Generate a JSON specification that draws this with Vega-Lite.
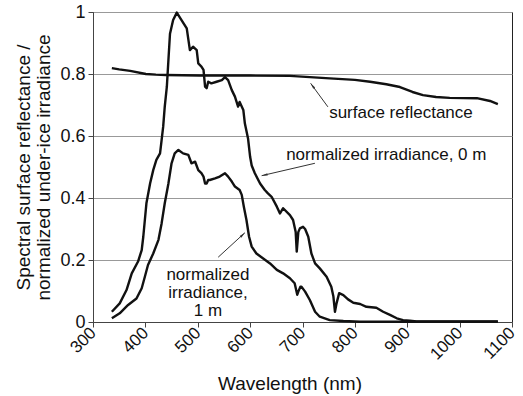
{
  "$schema": "https://vega.github.io/schema/vega-lite/v6.json",
  "width": 419,
  "height": 310,
  "autosize": {"type": "none"},
  "padding": {"left": 93, "top": 12, "right": 11, "bottom": 74},
  "background": "white",
  "config": {
    "view": {"stroke": "#222", "strokeWidth": 1},
    "font": "Liberation Sans",
    "axis": {"labelFont": "Liberation Sans", "titleFont": "Liberation Sans", "labelColor": "#111", "titleColor": "#111", "titleFontWeight": "normal", "domainColor": "#444", "tickColor": "#444"}
  },
  "datasets": {
    "spectra": [
      {"series": "surface reflectance", "wl": 336, "value": 0.819},
      {"series": "surface reflectance", "wl": 350, "value": 0.815},
      {"series": "surface reflectance", "wl": 371, "value": 0.81},
      {"series": "surface reflectance", "wl": 401, "value": 0.8},
      {"series": "surface reflectance", "wl": 420, "value": 0.798},
      {"series": "surface reflectance", "wl": 439, "value": 0.797},
      {"series": "surface reflectance", "wl": 504, "value": 0.795},
      {"series": "surface reflectance", "wl": 600, "value": 0.795},
      {"series": "surface reflectance", "wl": 676, "value": 0.794},
      {"series": "surface reflectance", "wl": 752, "value": 0.786},
      {"series": "surface reflectance", "wl": 800, "value": 0.781},
      {"series": "surface reflectance", "wl": 829, "value": 0.775},
      {"series": "surface reflectance", "wl": 860, "value": 0.767},
      {"series": "surface reflectance", "wl": 886, "value": 0.758},
      {"series": "surface reflectance", "wl": 910, "value": 0.742},
      {"series": "surface reflectance", "wl": 930, "value": 0.732},
      {"series": "surface reflectance", "wl": 955, "value": 0.726},
      {"series": "surface reflectance", "wl": 981, "value": 0.723},
      {"series": "surface reflectance", "wl": 1033, "value": 0.722},
      {"series": "surface reflectance", "wl": 1058, "value": 0.713},
      {"series": "surface reflectance", "wl": 1073, "value": 0.703},

      {"series": "0 m", "wl": 336, "value": 0.033},
      {"series": "0 m", "wl": 351, "value": 0.06},
      {"series": "0 m", "wl": 364, "value": 0.103},
      {"series": "0 m", "wl": 374, "value": 0.157},
      {"series": "0 m", "wl": 386, "value": 0.195},
      {"series": "0 m", "wl": 393, "value": 0.232},
      {"series": "0 m", "wl": 396, "value": 0.275},
      {"series": "0 m", "wl": 399, "value": 0.329},
      {"series": "0 m", "wl": 402, "value": 0.383},
      {"series": "0 m", "wl": 409, "value": 0.447},
      {"series": "0 m", "wl": 415, "value": 0.49},
      {"series": "0 m", "wl": 421, "value": 0.523},
      {"series": "0 m", "wl": 428, "value": 0.544},
      {"series": "0 m", "wl": 431, "value": 0.587},
      {"series": "0 m", "wl": 434, "value": 0.63},
      {"series": "0 m", "wl": 437, "value": 0.695},
      {"series": "0 m", "wl": 441, "value": 0.759},
      {"series": "0 m", "wl": 444, "value": 0.845},
      {"series": "0 m", "wl": 447, "value": 0.93},
      {"series": "0 m", "wl": 453, "value": 0.974},
      {"series": "0 m", "wl": 460, "value": 0.998},
      {"series": "0 m", "wl": 469, "value": 0.974},
      {"series": "0 m", "wl": 479, "value": 0.947},
      {"series": "0 m", "wl": 485, "value": 0.877},
      {"series": "0 m", "wl": 491, "value": 0.888},
      {"series": "0 m", "wl": 498, "value": 0.877},
      {"series": "0 m", "wl": 501, "value": 0.834},
      {"series": "0 m", "wl": 507, "value": 0.824},
      {"series": "0 m", "wl": 511, "value": 0.813},
      {"series": "0 m", "wl": 514, "value": 0.759},
      {"series": "0 m", "wl": 517, "value": 0.754},
      {"series": "0 m", "wl": 520, "value": 0.775},
      {"series": "0 m", "wl": 526, "value": 0.77},
      {"series": "0 m", "wl": 536, "value": 0.775},
      {"series": "0 m", "wl": 546, "value": 0.78},
      {"series": "0 m", "wl": 552, "value": 0.79},
      {"series": "0 m", "wl": 558, "value": 0.78},
      {"series": "0 m", "wl": 565, "value": 0.748},
      {"series": "0 m", "wl": 571, "value": 0.727},
      {"series": "0 m", "wl": 577, "value": 0.695},
      {"series": "0 m", "wl": 580, "value": 0.71},
      {"series": "0 m", "wl": 587, "value": 0.684},
      {"series": "0 m", "wl": 590, "value": 0.64},
      {"series": "0 m", "wl": 596, "value": 0.592},
      {"series": "0 m", "wl": 600, "value": 0.533},
      {"series": "0 m", "wl": 603, "value": 0.505},
      {"series": "0 m", "wl": 609, "value": 0.48},
      {"series": "0 m", "wl": 619, "value": 0.447},
      {"series": "0 m", "wl": 628, "value": 0.426},
      {"series": "0 m", "wl": 634, "value": 0.415},
      {"series": "0 m", "wl": 641, "value": 0.404},
      {"series": "0 m", "wl": 651, "value": 0.372},
      {"series": "0 m", "wl": 657, "value": 0.35},
      {"series": "0 m", "wl": 663, "value": 0.367},
      {"series": "0 m", "wl": 676, "value": 0.345},
      {"series": "0 m", "wl": 682, "value": 0.329},
      {"series": "0 m", "wl": 687, "value": 0.29},
      {"series": "0 m", "wl": 689, "value": 0.227},
      {"series": "0 m", "wl": 692, "value": 0.29},
      {"series": "0 m", "wl": 695, "value": 0.302},
      {"series": "0 m", "wl": 701, "value": 0.307},
      {"series": "0 m", "wl": 705, "value": 0.3},
      {"series": "0 m", "wl": 711, "value": 0.275},
      {"series": "0 m", "wl": 717, "value": 0.221},
      {"series": "0 m", "wl": 724, "value": 0.189},
      {"series": "0 m", "wl": 733, "value": 0.173},
      {"series": "0 m", "wl": 746, "value": 0.146},
      {"series": "0 m", "wl": 755, "value": 0.114},
      {"series": "0 m", "wl": 759, "value": 0.082},
      {"series": "0 m", "wl": 762, "value": 0.033},
      {"series": "0 m", "wl": 765, "value": 0.06},
      {"series": "0 m", "wl": 770, "value": 0.093},
      {"series": "0 m", "wl": 778, "value": 0.087},
      {"series": "0 m", "wl": 787, "value": 0.073},
      {"series": "0 m", "wl": 797, "value": 0.062},
      {"series": "0 m", "wl": 810, "value": 0.058},
      {"series": "0 m", "wl": 822, "value": 0.049},
      {"series": "0 m", "wl": 841, "value": 0.046},
      {"series": "0 m", "wl": 854, "value": 0.033},
      {"series": "0 m", "wl": 867, "value": 0.023},
      {"series": "0 m", "wl": 880, "value": 0.012},
      {"series": "0 m", "wl": 892, "value": 0.006},
      {"series": "0 m", "wl": 905, "value": 0.004},
      {"series": "0 m", "wl": 918, "value": 0.002},
      {"series": "0 m", "wl": 1000, "value": 0.002},
      {"series": "0 m", "wl": 1073, "value": 0.002},

      {"series": "1 m", "wl": 336, "value": 0.012},
      {"series": "1 m", "wl": 351, "value": 0.028},
      {"series": "1 m", "wl": 367, "value": 0.055},
      {"series": "1 m", "wl": 383, "value": 0.076},
      {"series": "1 m", "wl": 393, "value": 0.109},
      {"series": "1 m", "wl": 399, "value": 0.146},
      {"series": "1 m", "wl": 405, "value": 0.184},
      {"series": "1 m", "wl": 415, "value": 0.221},
      {"series": "1 m", "wl": 425, "value": 0.265},
      {"series": "1 m", "wl": 431, "value": 0.318},
      {"series": "1 m", "wl": 437, "value": 0.383},
      {"series": "1 m", "wl": 444, "value": 0.447},
      {"series": "1 m", "wl": 450, "value": 0.512},
      {"series": "1 m", "wl": 456, "value": 0.544},
      {"series": "1 m", "wl": 463, "value": 0.555},
      {"series": "1 m", "wl": 472, "value": 0.544},
      {"series": "1 m", "wl": 482, "value": 0.539},
      {"series": "1 m", "wl": 488, "value": 0.512},
      {"series": "1 m", "wl": 495, "value": 0.517},
      {"series": "1 m", "wl": 501, "value": 0.49},
      {"series": "1 m", "wl": 507, "value": 0.48},
      {"series": "1 m", "wl": 511, "value": 0.469},
      {"series": "1 m", "wl": 514, "value": 0.447},
      {"series": "1 m", "wl": 517, "value": 0.447},
      {"series": "1 m", "wl": 520, "value": 0.458},
      {"series": "1 m", "wl": 523, "value": 0.458},
      {"series": "1 m", "wl": 533, "value": 0.463},
      {"series": "1 m", "wl": 542, "value": 0.469},
      {"series": "1 m", "wl": 552, "value": 0.48},
      {"series": "1 m", "wl": 558, "value": 0.469},
      {"series": "1 m", "wl": 565, "value": 0.453},
      {"series": "1 m", "wl": 571, "value": 0.437},
      {"series": "1 m", "wl": 580, "value": 0.426},
      {"series": "1 m", "wl": 584, "value": 0.41},
      {"series": "1 m", "wl": 588, "value": 0.372},
      {"series": "1 m", "wl": 593, "value": 0.329},
      {"series": "1 m", "wl": 598, "value": 0.275},
      {"series": "1 m", "wl": 603, "value": 0.243},
      {"series": "1 m", "wl": 612, "value": 0.221},
      {"series": "1 m", "wl": 625, "value": 0.205},
      {"series": "1 m", "wl": 638, "value": 0.189},
      {"series": "1 m", "wl": 651, "value": 0.168},
      {"series": "1 m", "wl": 663, "value": 0.157},
      {"series": "1 m", "wl": 676, "value": 0.141},
      {"series": "1 m", "wl": 685, "value": 0.125},
      {"series": "1 m", "wl": 690, "value": 0.088},
      {"series": "1 m", "wl": 692, "value": 0.098},
      {"series": "1 m", "wl": 696, "value": 0.114},
      {"series": "1 m", "wl": 698, "value": 0.114},
      {"series": "1 m", "wl": 705, "value": 0.098},
      {"series": "1 m", "wl": 714, "value": 0.071},
      {"series": "1 m", "wl": 724, "value": 0.033},
      {"series": "1 m", "wl": 733, "value": 0.017},
      {"series": "1 m", "wl": 752, "value": 0.006},
      {"series": "1 m", "wl": 778, "value": 0.003},
      {"series": "1 m", "wl": 810, "value": 0.001},
      {"series": "1 m", "wl": 1073, "value": 0.001}
    ],
    "arrows": [
      {"label": "sr", "wl": 748.5, "value": 0.694, "wl2": 715.5, "value2": 0.77},
      {"label": "m0", "wl": 723.7, "value": 0.512, "wl2": 622, "value2": 0.472},
      {"label": "m1", "wl": 539, "value": 0.209, "wl2": 590, "value2": 0.288}
    ],
    "labels": [
      {"text": "surface reflectance", "wl": 888, "value": 0.674},
      {"text": "normalized irradiance, 0 m", "wl": 860, "value": 0.539},
      {"text": "normalized\nirradiance,\n1 m", "wl": 519.5, "value": 0.153}
    ]
  },
  "layer": [
    {
      "data": {"name": "spectra"},
      "mark": {"type": "line", "color": "#111", "strokeWidth": 2.4, "strokeJoin": "round"},
      "encoding": {
        "x": {
          "field": "wl", "type": "quantitative",
          "scale": {"domain": [300, 1100], "nice": false},
          "axis": {
            "values": [300, 400, 500, 600, 700, 800, 900, 1000, 1100],
            "format": "d",
            "title": "Wavelength (nm)", "titleFontSize": 19,
            "titleX": 196.5, "titleY": 67, "titleBaseline": "alphabetic",
            "labelFontSize": 17, "labelAngle": -45, "labelAlign": "right", "labelBaseline": "middle",
            "labelPadding": 3, "tickSize": 5, "grid": false, "labelFlush": false, "labelOverlap": false
          }
        },
        "y": {
          "field": "value", "type": "quantitative",
          "scale": {"domain": [0, 1], "nice": false},
          "axis": {
            "values": [0, 0.2, 0.4, 0.6, 0.8, 1],
            "format": "~g",
            "title": ["Spectral surface reflectance /", "normalized under-ice irradiance"],
            "titleFontSize": 19, "titleLineHeight": 20,
            "titleX": -63.5, "titleY": 155, "titleAlign": "center", "titleBaseline": "alphabetic", "titleAngle": -90,
            "labelFontSize": 18, "labelPadding": 3, "tickSize": 5,
            "grid": true, "gridColor": "#999", "gridWidth": 1, "labelFlush": false
          }
        },
        "detail": {"field": "series"}
      }
    },
    {
      "data": {"name": "arrows"},
      "mark": {"type": "rule", "color": "#333", "strokeWidth": 1},
      "encoding": {
        "x": {"field": "wl", "type": "quantitative"},
        "y": {"field": "value", "type": "quantitative"},
        "x2": {"field": "wl2"},
        "y2": {"field": "value2"}
      }
    },
    {
      "data": {"name": "arrows"},
      "transform": [{"filter": "datum.label == 'sr'"}],
      "mark": {"type": "point", "shape": "M0,0L-0.4,2L0.4,2Z", "filled": true, "color": "#333", "size": 36, "angle": 323.5, "opacity": 1},
      "encoding": {
        "x": {"field": "wl2", "type": "quantitative"},
        "y": {"field": "value2", "type": "quantitative"}
      }
    },
    {
      "data": {"name": "arrows"},
      "transform": [{"filter": "datum.label == 'm0'"}],
      "mark": {"type": "point", "shape": "M0,0L-0.4,2L0.4,2Z", "filled": true, "color": "#333", "size": 36, "angle": 257, "opacity": 1},
      "encoding": {
        "x": {"field": "wl2", "type": "quantitative"},
        "y": {"field": "value2", "type": "quantitative"}
      }
    },
    {
      "data": {"name": "arrows"},
      "transform": [{"filter": "datum.label == 'm1'"}],
      "mark": {"type": "point", "shape": "M0,0L-0.4,2L0.4,2Z", "filled": true, "color": "#333", "size": 36, "angle": 47, "opacity": 1},
      "encoding": {
        "x": {"field": "wl2", "type": "quantitative"},
        "y": {"field": "value2", "type": "quantitative"}
      }
    },
    {
      "data": {"name": "labels"},
      "mark": {"type": "text", "font": "Liberation Sans", "fontSize": 17, "color": "#111", "align": "center", "baseline": "middle", "lineBreak": "\n", "lineHeight": 18},
      "encoding": {
        "x": {"field": "wl", "type": "quantitative"},
        "y": {"field": "value", "type": "quantitative"},
        "text": {"field": "text"}
      }
    }
  ]
}
